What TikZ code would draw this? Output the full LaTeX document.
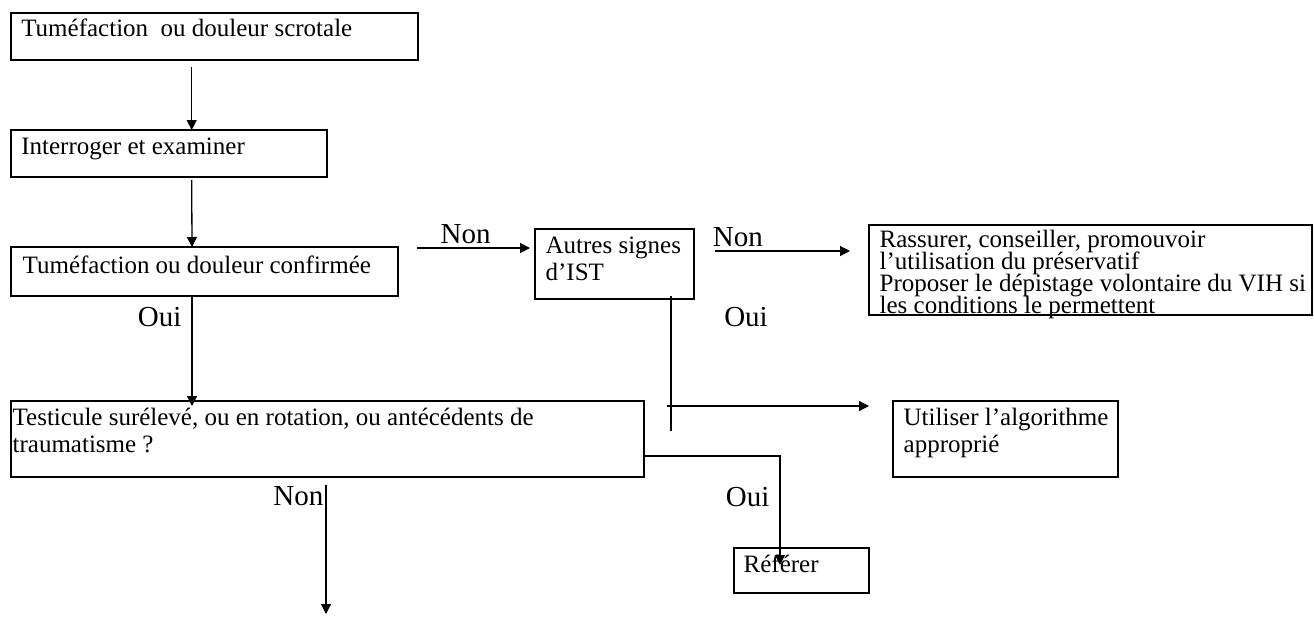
\documentclass[tikz,border=0pt]{standalone}
\usepackage{fontspec}
\setmainfont{Liberation Serif}
\usetikzlibrary{arrows.meta,calc,positioning}
\tikzset{every picture/.style={line width=0.65pt}}
\newcommand{\tightlines}{\fontsize{12.5}{10.85}\selectfont\lineskiplimit=-20pt\relax}

\begin{document}
\begin{tikzpicture}[
    x=0.5pt, y=-0.5pt,
    box/.style={draw,line width=1pt,anchor=north west,inner sep=0pt,outer sep=0pt},
    txt/.style={anchor=base west,inner sep=0pt,align=left,font=\fontsize{12.5}{13.75}\selectfont},
    lab/.style={inner sep=1pt,font=\fontsize{14.5}{16}\selectfont},
    arr/.style={-{Triangle[length=5pt,width=5pt]}}
]
    \useasboundingbox (0,0) rectangle (1314,617);

    % Left column
    \node[box,minimum width=203.5pt,minimum height=23.7pt] (scrot) at (10.7,12.7) {};
    \node[txt] (scrot-t) at ($(scrot.north west)+(10,24)$) {Tuméfaction\ \ ou douleur scrotale};

    \node[box,minimum width=158pt,minimum height=23.5pt] (exam) at (10.7,130) {};
    \node[txt] (exam-t) at ($(exam.north west)+(10,24)$) {Interroger et examiner};

    \node[box,minimum width=193.5pt,minimum height=24.5pt] (conf) at (11,247) {};
    \node[txt] (conf-t) at ($(conf.north west)+(11,26)$) {Tuméfaction ou douleur confirmée};

    % base of a multi-line text is its last line
    \node[box,minimum width=316.5pt,minimum height=38pt] (testi) at (11,401) {};
    \node[txt] (testi-t) at ($(testi.north west)+(1,51.5)$) {Testicule surélevé, ou en rotation, ou antécédents de\\traumatisme ?};

    % Other signs
    \node[box,minimum width=79.5pt,minimum height=35pt] (ist) at (535,229) {};
    \node[txt] (ist-t) at ($(ist.north west)+(10,51.5)$) {Autres signes\\d’IST};

    \node[box,minimum width=221.5pt,minimum height=45pt] (conseil) at (869,225) {};
    \node[txt,font=\tightlines] (conseil-t) at ($(conseil.north west)+(10,88)$)
        {Rassurer, conseiller, promouvoir\\l’utilisation du préservatif\\Proposer le dépistage volontaire du VIH si\\les conditions le permettent};

    \node[box,minimum width=112.5pt,minimum height=38pt] (algo) at (893,401) {};
    \node[txt] (algo-t) at ($(algo.north west)+(10,51.5)$) {Utiliser l’algorithme\\approprié};

    \node[box,minimum width=67.5pt,minimum height=22.5pt] (ref) at (734,548) {};
    \node[txt] (ref-t) at ($(ref.north west)+(9,24)$) {Référer};

    % Connectors
    \draw[arr] ($(scrot.south west)+(181,7)$) -- ($(exam.north west)+(181,0)$);
    \draw[arr] ($(exam.south west)+(181,3)$) -- ($(conf.north west)+(181,0)$);
    \draw[arr] ($(conf.north east)+(19,1)$) -- node[lab,above=1pt,pos=0.43] (non-1) {Non} ($(ist.north west)+(-5,19)$);
    \draw[arr] ($(ist.north east)+(21,22)$) -- node[lab,above=1pt,pos=0.17] (non-2) {Non} ($(conseil.north west)+(-19,26)$);
    \draw[arr] ($(conf.south west)+(181,0)$) -- node[lab,left=4pt,pos=0.19] (oui-1) {Oui} ($(testi.north west)+(181,5)$);

    \draw ($(ist.south west)+(136,-3)$) -- ++(0,135);
    \draw[arr] ($(ist.south west)+(132,107)$) -- ($(algo.north west)+(-24,5)$);
    \node[lab] (oui-2) at ($(ist.south east)+(52,18)$) {Oui};

    \draw[arr] ($(testi.north east)+(0,55)$) -| node[lab,left=4pt,pos=0.69] (oui-3) {Oui} ($(ref.north west)+(46,17)$);

    \coordinate (suite) at ($(testi.south west)+(315,137)$);
    \draw[arr] ($(testi.south west)+(315,8)$) -- node[lab,left=0pt,pos=0.09] (non-3) {Non} (suite);
\end{tikzpicture}
\end{document}
